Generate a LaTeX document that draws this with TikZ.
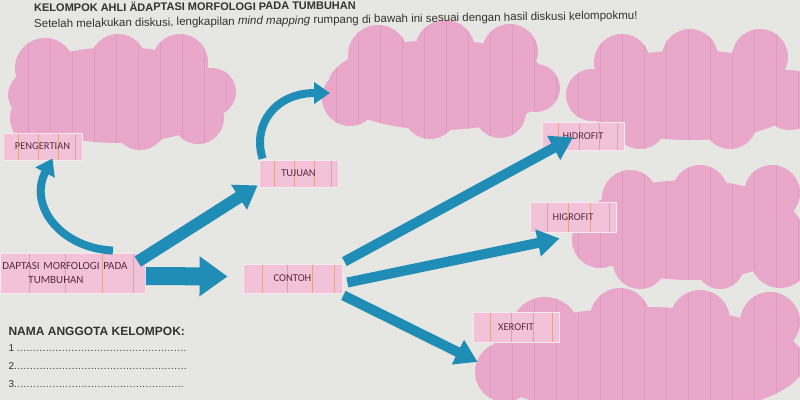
\documentclass[tikz,border=0pt]{standalone}
\usepackage{fontspec}
\setmainfont{Liberation Sans}
\newfontfamily\lblfont{Carlito}
\usetikzlibrary{arrows.meta,calc}
\definecolor{bg}{HTML}{E6E6E3}
\definecolor{cloudc}{HTML}{E9A7CA}
\definecolor{cloudline}{HTML}{DE9CC1}
\definecolor{boxc}{HTML}{F2C3D8}
\definecolor{boxline}{HTML}{E2A48E}
\definecolor{arrowc}{HTML}{1F8DB6}
\definecolor{txtc}{HTML}{5A2A3E}
\newcommand{\denseline}[1]{\makebox[#1][l]{\xleaders\hbox{.\kern0.4pt}\hfill}}
\begin{document}
\begin{tikzpicture}[x=1pt,y=-1pt,
  lbox/.style={draw=boxc!40!white, line width=0.8pt, fill=boxc, minimum height=28pt,
    text=txtc, font=\lblfont\fontsize{10.5}{13}\selectfont, inner sep=2pt,
    path picture={\foreach \i in {0.2,0.45,0.7,0.92}{
      \draw[boxline,line width=0.7pt]
        ($(path picture bounding box.south west)!\i!(path picture bounding box.south east)$) --
        ($(path picture bounding box.north west)!\i!(path picture bounding box.north east)$);}}},
  bigarrow/.style={arrowc, line width=10pt, -{Triangle[length=22pt,width=26pt]}},
  curvarrow/.style={arrowc, line width=8pt, -{Triangle[length=16pt,width=21pt]}},
  nametext/.style={anchor=base west, font=\fontsize{10}{12}\selectfont, text=black!80},
]
\useasboundingbox (0,0) rectangle (800,400);
\fill[bg] (0,0) rectangle (800,400);

% clouds
\newcommand{\cloudstripes}{\fill[cloudc] (0,0) rectangle (800,400);
  \foreach \x in {6,28,...,800} \draw[cloudline,line width=0.6pt] (\x,0) -- (\x,400);}
\begin{scope}
  \clip (118,95) ellipse [x radius=110pt, y radius=48pt]
        (45,68) circle [radius=30pt] (118,62) circle [radius=28pt]
        (180,62) circle [radius=28pt] (212,92) circle [radius=24pt]
        (38,118) circle [radius=28pt] (140,123) circle [radius=27pt]
        (198,118) circle [radius=26pt];
  \cloudstripes
\end{scope}
\begin{scope}
  \clip (440,85) ellipse [x radius=112pt, y radius=45pt]
        (378,55) circle [radius=30pt] (445,50) circle [radius=30pt]
        (510,52) circle [radius=28pt] (350,98) circle [radius=28pt]
        (536,88) circle [radius=24pt] (430,112) circle [radius=27pt]
        (500,112) circle [radius=26pt];
  \cloudstripes
\end{scope}
\begin{scope}
  \clip (690,95) ellipse [x radius=115pt, y radius=45pt]
        (622,62) circle [radius=28pt] (690,57) circle [radius=28pt]
        (760,57) circle [radius=28pt] (592,95) circle [radius=26pt]
        (640,122) circle [radius=27pt] (730,122) circle [radius=27pt]
        (790,100) circle [radius=30pt];
  \cloudstripes
\end{scope}
\begin{scope}
  \clip (690,230) ellipse [x radius=112pt, y radius=50pt]
        (630,198) circle [radius=28pt] (700,193) circle [radius=28pt]
        (772,193) circle [radius=28pt] (600,240) circle [radius=28pt]
        (640,262) circle [radius=27pt] (720,265) circle [radius=24pt]
        (780,258) circle [radius=30pt];
  \cloudstripes
\end{scope}
\begin{scope}
  \clip (645,362) ellipse [x radius=160pt, y radius=55pt]
        (545,332) circle [radius=35pt] (620,318) circle [radius=30pt]
        (700,320) circle [radius=30pt] (770,322) circle [radius=30pt]
        (505,372) circle [radius=30pt];
  \cloudstripes
\end{scope}

% label boxes
\node[lbox, minimum width=79pt, minimum height=27pt] (peng) at (42.5,146.5) {PENGERTIAN};
\node[lbox, minimum width=79pt, minimum height=27pt] (tuj) at (298.5,173.5) {TUJUAN};
\node[lbox, minimum width=145pt, minimum height=40pt, text width=141pt, align=left, anchor=west,
  font=\lblfont\fontsize{11}{13.5}\selectfont]
  (adapt) at (0,273) {DAPTASI MORFOLOGI PADA\\\hspace*{26pt}TUMBUHAN};
\node[lbox, minimum width=99pt, minimum height=29pt] (contoh) at (292.5,278.5) {CONTOH};
\node[lbox, minimum width=82pt] (hidro) at (583,136) {HIDROFIT};
\node[lbox, minimum width=86pt, minimum height=30pt] (higro) at (573,217) {HIGROFIT};
\node[lbox, minimum width=86pt, minimum height=30pt] (xero) at (516,327.5) {XEROFIT};

% connectors
\draw[curvarrow] ($(adapt.north)+(40,-2)$) .. controls (60,248) and (28,205) .. ($(peng.south)+(10,-2)$);
\draw[curvarrow] ($(tuj.north west)+(4,-1)$) .. controls (252,125) and (275,93) .. (330,93);
\draw[arrowc, line width=12pt, -{Triangle[length=22pt,width=28pt]}]
  ($(adapt.north east)+(-8,9)$) -- ($(tuj.south west)+(-1,-2)$);
\draw[arrowc, line width=18pt, -{Triangle[length=28pt,width=38pt]}]
  ($(adapt.east)+(0,3)$) -- ($(contoh.west)+(-15,-2)$);
\draw[bigarrow] ($(contoh.north east)+(2,-2)$) -- ($(hidro.south)+(-10,-13)$);
\draw[bigarrow] ($(contoh.east)+(5,4)$) -- ($(higro.south west)+(30,6)$);
\draw[bigarrow] ($(contoh.south east)+(1,2)$) -- ($(xero.south west)+(5,19)$);

% texts
\node[anchor=base west, rotate=0.5, font=\bfseries\fontsize{11}{13}\selectfont, text=black!80, inner sep=1pt] (title)
  at (33,12) {KELOMPOK AHLI ÄDAPTASI MORFOLOGI PADA TUMBUHAN};
\node[anchor=base west, rotate=0.85, font=\fontsize{11.5}{13}\selectfont, text=black!80, inner sep=1pt] (sub)
  at (33,28) {Setelah melakukan diskusi, lengkapilan \textit{mind mapping} rumpang di bawah ini sesuai dengan hasil diskusi kelompokmu!};
\node[anchor=base west, font=\bfseries\fontsize{12}{14}\selectfont, text=black!80] (nama)
  at (5,335) {NAMA ANGGOTA KELOMPOK:};
\node[nametext] (n1) at (5,351) {1 \denseline{170pt}};
\node[nametext] (n2) at (5,369) {2\denseline{173pt}};
\node[nametext] (n3) at (5,387) {3\denseline{170pt}};
\end{tikzpicture}
\end{document}
